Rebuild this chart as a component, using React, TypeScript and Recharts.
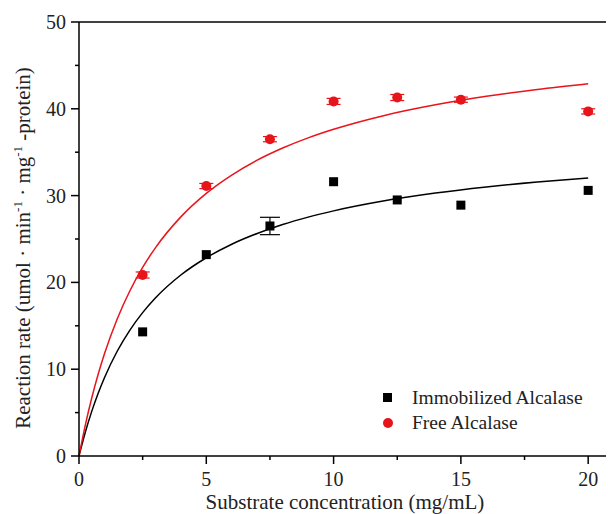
import React from 'react';
import { ComposedChart, Line, Scatter, ErrorBar, XAxis, YAxis, ReferenceLine } from 'recharts';

const concentrations = [2.5, 5, 7.5, 10, 12.5, 15, 20];
const immobilizedRate = [14.3, 23.2, 26.5, 31.6, 29.5, 28.9, 30.6];
const immobilizedErr = [0, 0, 1.0, 0, 0, 0, 0];
const freeRate = [20.85, 31.1, 36.5, 40.85, 41.3, 41.05, 39.7];
const freeErr = [0.35, 0.3, 0.3, 0.35, 0.35, 0.3, 0.3];

// fitted curves
const curveX = [0, 0.25, 0.5, 0.75, 1, 1.5, 2, 2.5, 3, 4, 5, 6, 7, 8, 9, 10, 12, 14, 16, 18, 20];
const immobilizedFit = [0, 2.76, 5.14, 7.21, 9.02, 12.07, 14.51, 16.52, 18.2, 20.85, 22.84, 24.4, 25.64, 26.67, 27.52, 28.24, 29.4, 30.29, 30.99, 31.56, 32.03];
const freeFit = [0, 3.58, 6.68, 9.38, 11.77, 15.79, 19.04, 21.73, 23.98, 27.55, 30.26, 32.37, 34.08, 35.48, 36.65, 37.64, 39.24, 40.46, 41.44, 42.22, 42.88];

const xTicks = [0, 2.5, 5, 7.5, 10, 12.5, 15, 17.5, 20];
const yTicks = [0, 5, 10, 15, 20, 25, 30, 35, 40, 45, 50];

const FONT = '"Liberation Serif", "Times New Roman", serif';
const RED = '#e8141b';
const INK = '#222';

const fitData = curveX.map((x, i) => ({ x, imm: immobilizedFit[i], free: freeFit[i] }));
const immData = concentrations.map((x, i) => ({ x, y: immobilizedRate[i], err: immobilizedErr[i] }));
const freeData = concentrations.map((x, i) => ({ x, y: freeRate[i], err: freeErr[i] }));

const XTick = (props: any) => {
	const { x, y, payload } = props;
	const major = payload.value % 5 === 0;
	return (
		<g>
			<line x1={x} x2={x} y1={y} y2={y + (major ? 8 : 4)} stroke="#000" strokeWidth={1.5} />
			{major && (
				<text x={x} y={y + 30} textAnchor="middle" fontFamily={FONT} fontSize={20} fill={INK}>
					{payload.value}
				</text>
			)}
		</g>
	);
};

const YTick = (props: any) => {
	const { x, y, payload } = props;
	const major = payload.value % 10 === 0;
	return (
		<g>
			<line x1={x - (major ? 8 : 4)} x2={x} y1={y} y2={y} stroke="#000" strokeWidth={1.5} />
			{major && (
				<text x={x - 13} y={y + 7} textAnchor="end" fontFamily={FONT} fontSize={20} fill={INK}>
					{payload.value}
				</text>
			)}
		</g>
	);
};

const YTitle = () => (
	<text
		x={30}
		y={248}
		transform="rotate(-90, 30, 248)"
		textAnchor="middle"
		fontFamily={FONT}
		fontSize={21}
		fill={INK}
	>
		<tspan>Reaction rate (umol · min</tspan>
		<tspan fontSize={13} dy={-8}>-1</tspan>
		<tspan dy={8}> · mg</tspan>
		<tspan fontSize={13} dy={-8}>-1</tspan>
		<tspan dy={8}> -protein)</tspan>
	</text>
);

const XTitle = () => (
	<text x={345} y={509} textAnchor="middle" fontFamily={FONT} fontSize={21} fill={INK}>
		Substrate concentration (mg/mL)
	</text>
);

const Square = (props: any) => <rect x={props.cx - 4.5} y={props.cy - 4.5} width={9} height={9} fill="#000" />;
const Dot = (props: any) => <circle cx={props.cx} cy={props.cy} r={5} fill={RED} />;

const App: React.FC = () => {
	return (
		<div style={{ position: 'absolute', left: 0, top: 0, width: 608, height: 514 }}>
			<ComposedChart width={608} height={514} margin={{ top: 22, right: 2, bottom: 0, left: 0 }}>
				<XAxis
					type="number"
					dataKey="x"
					domain={[0, 20.7]}
					ticks={xTicks}
					interval={0}
					height={58}
					tickSize={0}
					tickMargin={0}
					tickLine={false}
					tick={<XTick />}
					axisLine={{ stroke: '#000', strokeWidth: 1.5 }}
					label={<XTitle />}
				/>
				<YAxis
					type="number"
					domain={[0, 50]}
					ticks={yTicks}
					interval={0}
					width={79}
					tickSize={0}
					tickMargin={0}
					tickLine={false}
					tick={<YTick />}
					axisLine={{ stroke: '#000', strokeWidth: 1.5 }}
					label={<YTitle />}
				/>
				<ReferenceLine y={50} stroke="#000" strokeWidth={1.5} />
				<Line data={fitData} dataKey="imm" type="monotone" dot={false} stroke="#000" strokeWidth={1.5} isAnimationActive={false} />
				<Line data={fitData} dataKey="free" type="monotone" dot={false} stroke={RED} strokeWidth={1.5} isAnimationActive={false} />
				<Scatter data={immData} dataKey="y" shape={Square} isAnimationActive={false}>
					<ErrorBar dataKey="err" direction="y" width={10} stroke="#000" strokeWidth={1.2} />
				</Scatter>
				<Scatter data={freeData} dataKey="y" shape={Dot} isAnimationActive={false}>
					<ErrorBar dataKey="err" direction="y" width={7} stroke={RED} strokeWidth={1.2} />
				</Scatter>
			</ComposedChart>
			<div style={{ position: 'absolute', left: 383, top: 385, fontFamily: FONT, fontSize: 19.5, color: INK, lineHeight: '25px' }}>
				<div style={{ display: 'flex', alignItems: 'center' }}>
					<span style={{ display: 'inline-block', width: 9, height: 9, background: '#000', marginRight: 20 }} />
					Immobilized Alcalase
				</div>
				<div style={{ display: 'flex', alignItems: 'center' }}>
					<span style={{ display: 'inline-block', width: 10, height: 10, borderRadius: 5, background: RED, marginRight: 19 }} />
					Free Alcalase
				</div>
			</div>
		</div>
	);
};

export default App;
